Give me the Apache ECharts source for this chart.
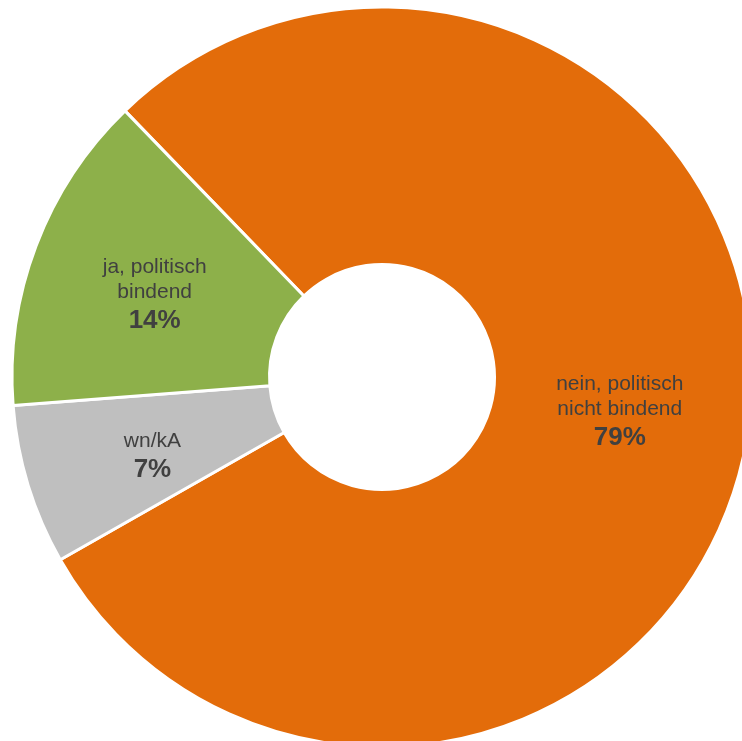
<!DOCTYPE html>
<html><head><meta charset="utf-8">
<script src="https://cdn.jsdelivr.net/npm/echarts@6/dist/echarts.min.js"></script>
<style>html,body{margin:0;padding:0;background:#fff}#c{width:742px;height:741px}</style>
</head><body><div id="c"></div>
<script>
var categories = ['nein, politisch\nnicht bindend', 'wn/kA', 'ja, politisch\nbindend'];
var values = [79, 7, 14];

var chart = echarts.init(document.getElementById('c'), null, {renderer: 'canvas'});
var sliceColors = ['#E36C0A', '#BFBFBF', '#8DB04A'];
var labelShift = [[-4, 1], [4, 9], [1, 6]];
var data = categories.map(function (c, i) {
  return {name: c, value: values[i], itemStyle: {color: sliceColors[i]}, label: {offset: labelShift[i]}};
});
chart.setOption({
  animation: false,
  series: [{
    type: 'pie',
    center: [382, 377],
    radius: [112.5, 370],
    startAngle: 134,
    clockwise: true,
    avoidLabelOverlap: false,
    itemStyle: {borderColor: '#fff', borderWidth: 3},
    label: {
      show: true,
      position: 'inside',
      formatter: function (p) {
        var lines = p.name.split('\n').map(function (l) { return '{n|' + l + '}'; });
        return lines.join('\n') + '\n{p|' + p.value + '%}';
      },
      rich: {
        n: {fontFamily: 'Liberation Sans, Arial, sans-serif', fontSize: 21, color: '#404040', lineHeight: 25},
        p: {fontFamily: 'Liberation Sans, Arial, sans-serif', fontSize: 26, fontWeight: 'bold', color: '#404040', lineHeight: 33}
      }
    },
    labelLine: {show: false},
    emphasis: {disabled: true},
    data: data
  }]
});
</script></body></html>
